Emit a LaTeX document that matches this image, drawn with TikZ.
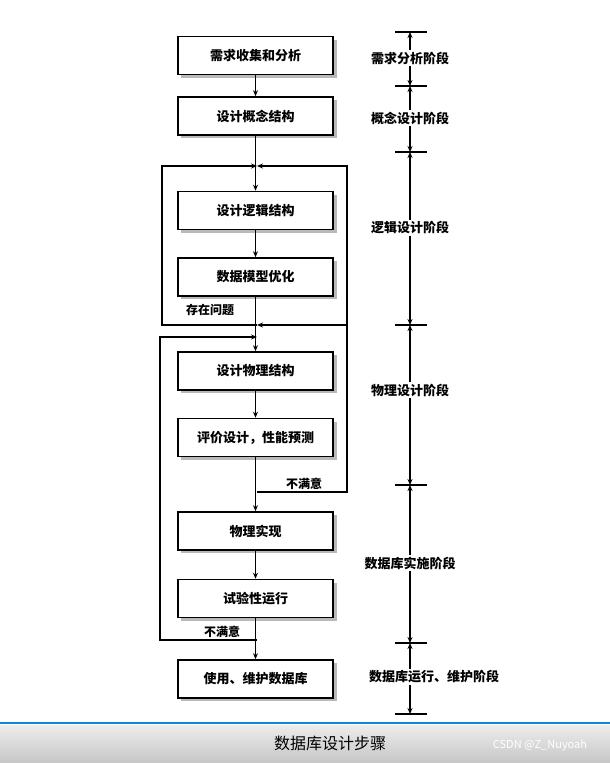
\documentclass[tikz,border=0pt]{standalone}
\usepackage{fontspec}
\setmainfont{Noto Sans CJK SC}
\usetikzlibrary{arrows.meta}
\begin{document}
\begin{tikzpicture}[x=1pt,y=-1pt,
  box/.style={draw,line width=1.6pt,minimum width=155pt,minimum height=38pt,fill=white,font=\fontsize{13}{13}\selectfont\bfseries,
    append after command={}},
  sh/.style={fill=gray!60},
  ln/.style={line width=1.2pt},
  ar/.style={ln,-{Stealth[length=6pt,width=5pt]}},
  lab/.style={font=\fontsize{12}{12}\selectfont\bfseries},
  stage/.style={font=\fontsize{13}{13}\selectfont\bfseries,fill=white,inner sep=2pt},
  tick/.style={line width=1.4pt}]
\useasboundingbox (0,0) rectangle (610,763);
\fill[white] (0,0) rectangle (610,763);
% shadows
\foreach \y in {55.5,116,210.5,277,371,437.5,531,598.5,679}{\fill[gray!55] (181,\y-16) rectangle (337,\y+22);}
\node[box] (b1) at (255.5,55.5) {需求收集和分析};
\node[box] (b2) at (255.5,116) {设计概念结构};
\node[box] (b3) at (255.5,210.5) {设计逻辑结构};
\node[box] (b4) at (255.5,277) {数据模型优化};
\node[box] (b5) at (255.5,371) {设计物理结构};
\node[box] (b6) at (255.5,437.5) {评价设计，性能预测};
\node[box] (b7) at (255.5,531) {物理实现};
\node[box] (b8) at (255.5,598.5) {试验性运行};
\node[box] (b9) at (255.5,679) {使用、维护数据库};
\coordinate (t1) at (257,166);
\coordinate (t2) at (257,325);
\coordinate (t3) at (257,337);
\coordinate (t4) at (257,492);
\coordinate (t5) at (257,640);
\draw[ar] (b1) -- (b2);
\draw[ar] (b2) -- (b3);
\draw[ar] (b3) -- (b4);
\draw[ar] (b4) -- (b5);
\draw[ar] (b5) -- (b6);
\draw[ar] (b6) -- (b7);
\draw[ar] (b7) -- (b8);
\draw[ar] (b8) -- (b9);
\draw[ar] (t2) -- (162,325) -- (162,166) -- (t1);
\draw[ar] (t4) -- (347,492) -- (347,166) -- (t1);
\draw[ar] (347,325) -- (t2);
\draw[ar] (t5) -- (160,640) -- (160,337) -- (t3);
\node[lab] (l1) at (210,310) {存在问题};
\node[lab] (l2) at (304,484) {不满意};
\node[lab] (l3) at (222,632) {不满意};
% stage axis
\foreach \y in {32,86,152,325,485,643,714}{\draw[tick] (395,\y) -- (427,\y);}
\draw[ar] (410,58) -- (410,32); \draw[ar] (410,58) -- (410,86);
\draw[ar] (410,118) -- (410,86); \draw[ar] (410,118) -- (410,152);
\draw[ar] (410,238) -- (410,152); \draw[ar] (410,238) -- (410,325);
\draw[ar] (410,405) -- (410,325); \draw[ar] (410,405) -- (410,485);
\draw[ar] (410,563) -- (410,485); \draw[ar] (410,563) -- (410,643);
\draw[ar] (410,677) -- (410,643); \draw[ar] (410,677) -- (410,714);
\node[stage] (s1) at (410,58) {需求分析阶段};
\node[stage] (s2) at (410,118) {概念设计阶段};
\node[stage] (s3) at (410,228) {逻辑设计阶段};
\node[stage] (s4) at (410,390) {物理设计阶段};
\node[stage] (s5) at (410,563) {数据库实施阶段};
\node[stage] (s6) at (434,677) {数据库运行、维护阶段};
% bottom band
\shade[top color=gray!15,bottom color=gray!45] (0,725) rectangle (610,763);
\draw[line width=2pt,color=cyan!70!blue] (0,723) -- (610,723);
\node[font=\fontsize{16}{16}\selectfont] (title) at (330,743) {数据库设计步骤};
\node[font=\fontsize{11}{11}\selectfont,text=white] (wm) at (540,745) {CSDN @Z\_Nuyoah};
\end{tikzpicture}
\end{document}
